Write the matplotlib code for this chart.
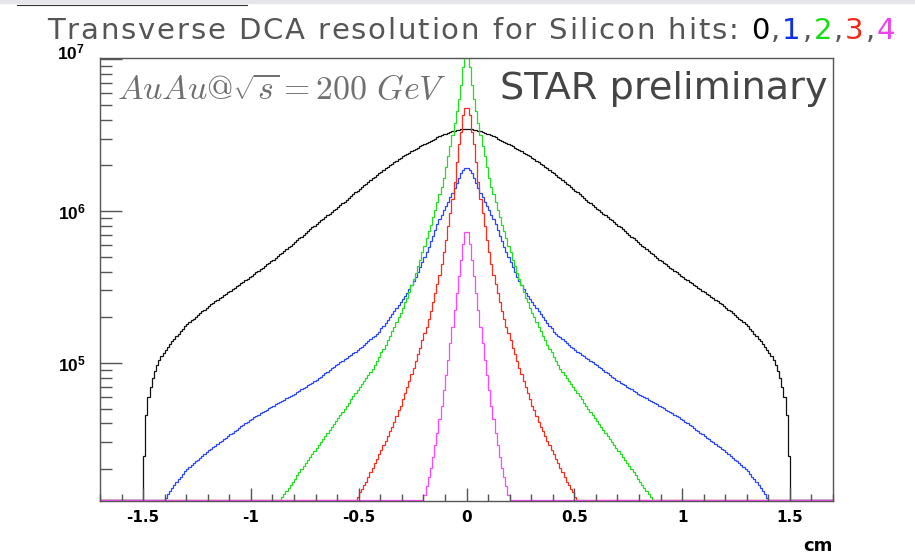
import numpy as np
import matplotlib
matplotlib.use('Agg')
import matplotlib.pyplot as plt
from matplotlib.ticker import FixedLocator, NullFormatter, MultipleLocator

plt.rcParams['axes.unicode_minus'] = False
plt.rcParams['mathtext.fontset'] = 'custom'
plt.rcParams['mathtext.bf'] = 'Liberation Sans:bold'
plt.rcParams['mathtext.rm'] = 'Liberation Sans'

W, H = 915, 555

# histogram window
x_min, x_max = -1.7, 1.7
y_min, y_max = 1.236e4, 1.016e7

# log10(bin content), left to right from the first filled bin, 0.01 cm bins
black_start = -1.50
black_log10 = [
    4.390, 4.655, 4.775, 4.845, 4.900, 4.950, 4.988, 5.020, 5.046, 5.068,
    5.088, 5.106, 5.124, 5.142, 5.160, 5.178, 5.194, 5.210, 5.226, 5.242,
    5.256, 5.268, 5.280, 5.292, 5.304, 5.316, 5.328, 5.340, 5.352, 5.364,
    5.375, 5.385, 5.395, 5.405, 5.415, 5.425, 5.435, 5.445, 5.455, 5.465,
    5.475, 5.485, 5.495, 5.505, 5.515, 5.525, 5.535, 5.545, 5.555, 5.565,
    5.575, 5.586, 5.596, 5.607, 5.617, 5.628, 5.638, 5.649, 5.659, 5.670,
    5.681, 5.692, 5.704, 5.715, 5.727, 5.738, 5.750, 5.761, 5.773, 5.784,
    5.796, 5.808, 5.820, 5.832, 5.844, 5.856, 5.868, 5.880, 5.892, 5.904,
    5.916, 5.927, 5.938, 5.949, 5.960, 5.971, 5.982, 5.993, 6.004, 6.015,
    6.026, 6.038, 6.050, 6.062, 6.074, 6.086, 6.098, 6.110, 6.122, 6.134,
    6.146, 6.157, 6.169, 6.180, 6.192, 6.203, 6.215, 6.226, 6.238, 6.249,
    6.260, 6.270, 6.280, 6.290, 6.300, 6.310, 6.320, 6.330, 6.340, 6.350,
    6.359, 6.368, 6.376, 6.384, 6.392, 6.401, 6.409, 6.417, 6.426, 6.434,
    6.442, 6.449, 6.456, 6.463, 6.470, 6.477, 6.484, 6.491, 6.498, 6.504,
    6.509, 6.514, 6.519, 6.524, 6.529, 6.533, 6.536, 6.538, 6.540, 6.540,
    6.540, 6.540, 6.538, 6.536, 6.533, 6.529, 6.524, 6.519, 6.514, 6.509,
    6.504, 6.498, 6.491, 6.484, 6.477, 6.470, 6.463, 6.456, 6.449, 6.442,
    6.434, 6.426, 6.417, 6.409, 6.401, 6.392, 6.384, 6.376, 6.368, 6.359,
    6.350, 6.340, 6.330, 6.320, 6.310, 6.300, 6.290, 6.280, 6.270, 6.260,
    6.249, 6.238, 6.226, 6.215, 6.203, 6.192, 6.180, 6.169, 6.157, 6.146,
    6.134, 6.122, 6.110, 6.098, 6.086, 6.074, 6.062, 6.050, 6.038, 6.026,
    6.015, 6.004, 5.993, 5.982, 5.971, 5.960, 5.949, 5.938, 5.927, 5.916,
    5.904, 5.892, 5.880, 5.868, 5.856, 5.844, 5.832, 5.820, 5.808, 5.796,
    5.784, 5.773, 5.761, 5.750, 5.738, 5.727, 5.715, 5.704, 5.692, 5.681,
    5.670, 5.659, 5.649, 5.638, 5.628, 5.617, 5.607, 5.596, 5.586, 5.575,
    5.565, 5.555, 5.545, 5.535, 5.525, 5.515, 5.505, 5.495, 5.485, 5.475,
    5.465, 5.455, 5.445, 5.435, 5.425, 5.415, 5.405, 5.395, 5.385, 5.375,
    5.364, 5.352, 5.340, 5.328, 5.316, 5.304, 5.292, 5.280, 5.268, 5.256,
    5.242, 5.226, 5.210, 5.194, 5.178, 5.160, 5.142, 5.124, 5.106, 5.088,
    5.068, 5.046, 5.020, 4.988, 4.950, 4.900, 4.845, 4.775, 4.655, 4.390,
]

blue_start = -1.40
blue_log10 = [
    4.115, 4.138, 4.160, 4.180, 4.200, 4.219, 4.236, 4.253, 4.270, 4.287,
    4.302, 4.314, 4.327, 4.339, 4.352, 4.364, 4.377, 4.389, 4.402, 4.414,
    4.425, 4.436, 4.446, 4.457, 4.467, 4.478, 4.488, 4.499, 4.509, 4.520,
    4.530, 4.541, 4.551, 4.562, 4.572, 4.583, 4.593, 4.604, 4.614, 4.625,
    4.634, 4.643, 4.651, 4.660, 4.668, 4.677, 4.685, 4.694, 4.702, 4.711,
    4.719, 4.727, 4.735, 4.743, 4.751, 4.759, 4.767, 4.775, 4.783, 4.791,
    4.799, 4.808, 4.817, 4.826, 4.835, 4.844, 4.853, 4.862, 4.871, 4.880,
    4.890, 4.901, 4.911, 4.922, 4.932, 4.943, 4.953, 4.964, 4.974, 4.985,
    4.995, 5.005, 5.015, 5.025, 5.035, 5.045, 5.055, 5.065, 5.075, 5.085,
    5.096, 5.108, 5.120, 5.132, 5.144, 5.156, 5.168, 5.180, 5.192, 5.205,
    5.228, 5.246, 5.264, 5.282, 5.300, 5.320, 5.340, 5.360, 5.380, 5.400,
    5.420, 5.440, 5.462, 5.486, 5.512, 5.538, 5.568, 5.600, 5.632, 5.663,
    5.695, 5.730, 5.765, 5.800, 5.838, 5.875, 5.912, 5.945, 5.975, 6.008,
    6.035, 6.062, 6.090, 6.120, 6.150, 6.185, 6.220, 6.250, 6.270, 6.280,
    6.280, 6.270, 6.250, 6.220, 6.185, 6.150, 6.120, 6.090, 6.062, 6.035,
    6.008, 5.975, 5.945, 5.912, 5.875, 5.838, 5.800, 5.765, 5.730, 5.695,
    5.663, 5.632, 5.600, 5.568, 5.538, 5.512, 5.486, 5.462, 5.440, 5.420,
    5.400, 5.380, 5.360, 5.340, 5.320, 5.300, 5.282, 5.264, 5.246, 5.228,
    5.205, 5.192, 5.180, 5.168, 5.156, 5.144, 5.132, 5.120, 5.108, 5.096,
    5.085, 5.075, 5.065, 5.055, 5.045, 5.035, 5.025, 5.015, 5.005, 4.995,
    4.985, 4.974, 4.964, 4.953, 4.943, 4.932, 4.922, 4.911, 4.901, 4.890,
    4.880, 4.871, 4.862, 4.853, 4.844, 4.835, 4.826, 4.817, 4.808, 4.799,
    4.791, 4.783, 4.775, 4.767, 4.759, 4.751, 4.743, 4.735, 4.727, 4.719,
    4.711, 4.702, 4.694, 4.685, 4.677, 4.668, 4.660, 4.651, 4.643, 4.634,
    4.625, 4.614, 4.604, 4.593, 4.583, 4.572, 4.562, 4.551, 4.541, 4.530,
    4.520, 4.509, 4.499, 4.488, 4.478, 4.467, 4.457, 4.446, 4.436, 4.425,
    4.414, 4.402, 4.389, 4.377, 4.364, 4.352, 4.339, 4.327, 4.314, 4.302,
    4.287, 4.270, 4.253, 4.236, 4.219, 4.200, 4.180, 4.160, 4.138, 4.115,
]

green_start = -0.88
green_log10 = [
    4.10, 4.10, 4.12, 4.14, 4.16, 4.18, 4.20, 4.22,
    4.24, 4.26, 4.28, 4.30, 4.32, 4.34, 4.36, 4.38, 4.40, 4.42,
    4.44, 4.46, 4.48, 4.50, 4.52, 4.54, 4.56, 4.58, 4.60, 4.62,
    4.64, 4.66, 4.68, 4.70, 4.72, 4.74, 4.76, 4.78, 4.80, 4.82,
    4.84, 4.86, 4.88, 4.90, 4.92, 4.94, 4.96, 4.99, 5.01, 5.04,
    5.07, 5.09, 5.12, 5.15, 5.18, 5.21, 5.24, 5.27, 5.30, 5.33,
    5.36, 5.40, 5.43, 5.47, 5.51, 5.55, 5.59, 5.64, 5.68, 5.73,
    5.77, 5.82, 5.87, 5.91, 5.96, 6.01, 6.06, 6.11, 6.16, 6.22,
    6.29, 6.36, 6.43, 6.50, 6.58, 6.66, 6.74, 6.83, 6.95, 7.05,
    7.05, 6.95, 6.83, 6.74, 6.66, 6.58, 6.50, 6.43, 6.36, 6.29,
    6.22, 6.16, 6.11, 6.06, 6.01, 5.96, 5.91, 5.87, 5.82, 5.77,
    5.73, 5.68, 5.64, 5.59, 5.55, 5.51, 5.47, 5.43, 5.40, 5.36,
    5.33, 5.30, 5.27, 5.24, 5.21, 5.18, 5.15, 5.12, 5.09, 5.07,
    5.04, 5.01, 4.99, 4.96, 4.94, 4.92, 4.90, 4.88, 4.86, 4.84,
    4.82, 4.80, 4.78, 4.76, 4.74, 4.72, 4.70, 4.68, 4.66, 4.64,
    4.62, 4.60, 4.58, 4.56, 4.54, 4.52, 4.50, 4.48, 4.46, 4.44,
    4.42, 4.40, 4.38, 4.36, 4.34, 4.32, 4.30, 4.28, 4.26, 4.24,
    4.22, 4.20, 4.18, 4.16, 4.14, 4.12, 4.10, 4.10,
]

red_start = -0.52
red_log10 = [
    4.10, 4.12,
    4.15, 4.17, 4.20, 4.22, 4.25, 4.28, 4.31, 4.34, 4.37, 4.40,
    4.43, 4.46, 4.49, 4.52, 4.55, 4.58, 4.61, 4.65, 4.69, 4.72,
    4.76, 4.80, 4.84, 4.88, 4.93, 4.97, 5.01, 5.06, 5.10, 5.15,
    5.20, 5.24, 5.29, 5.34, 5.40, 5.46, 5.52, 5.58, 5.65, 5.73,
    5.81, 5.90, 5.99, 6.08, 6.19, 6.32, 6.44, 6.52, 6.63, 6.68,
    6.68, 6.63, 6.52, 6.44, 6.32, 6.19, 6.08, 5.99, 5.90, 5.81,
    5.73, 5.65, 5.58, 5.52, 5.46, 5.40, 5.34, 5.29, 5.24, 5.20,
    5.15, 5.10, 5.06, 5.01, 4.97, 4.93, 4.88, 4.84, 4.80, 4.76,
    4.72, 4.69, 4.65, 4.61, 4.58, 4.55, 4.52, 4.49, 4.46, 4.43,
    4.40, 4.37, 4.34, 4.31, 4.28, 4.25, 4.22, 4.20, 4.17, 4.15,
    4.12, 4.10,
]

magenta_start = -0.20
magenta_log10 = [
    4.13, 4.19, 4.25, 4.31, 4.38, 4.46, 4.54, 4.63, 4.72, 4.82,
    4.92, 5.02, 5.13, 5.24, 5.35, 5.46, 5.57, 5.68, 5.78, 5.86,
    5.86, 5.78, 5.68, 5.57, 5.46, 5.35, 5.24, 5.13, 5.02, 4.92,
    4.82, 4.72, 4.63, 4.54, 4.46, 4.38, 4.31, 4.25, 4.19, 4.13,
]

bin_width = 0.01
hist_colors = ['#111111', '#2a45ff', '#1ee01e', '#ff2a1a', '#ff45ff']
x_ticks = [-1.5, -1.0, -0.5, 0.0, 0.5, 1.0, 1.5]
x_ticklabels = ['-1.5', '-1', '-0.5', '0', '0.5', '1', '1.5']
title_pieces = [
    ('Transverse DCA resolution for Silicon hits: ', '#555555'),
    ('0', '#000000'), (',', '#555555'),
    ('1', '#1030e8'), (',', '#555555'),
    ('2', '#18dc18'), (',', '#555555'),
    ('3', '#f0281a'), (',', '#555555'),
    ('4', '#f040f0'),
]

series = [
    (black_start, black_log10, hist_colors[0]),
    (blue_start, blue_log10, hist_colors[1]),
    (green_start, green_log10, hist_colors[2]),
    (red_start, red_log10, hist_colors[3]),
    (magenta_start, magenta_log10, hist_colors[4]),
]

fig = plt.figure(figsize=(W / 100, H / 100), dpi=100)
fig.patch.set_facecolor('white')
ax = fig.add_axes([100 / W, 54 / H, 733 / W, 443 / H])
ax.set_yscale('log')
ax.set_xlim(x_min, x_max)
ax.set_ylim(y_min, y_max)

# empty bins sit on the lower edge of the frame
floor = y_min * 1.012
for start, logs, color in series:
    vals = 10.0 ** np.asarray(logs)
    edges = start + bin_width * np.arange(len(vals) + 1)
    full_edges = np.concatenate([[x_min], edges, [x_max]])
    full_vals = np.concatenate([[floor], vals, [floor]])
    ax.stairs(full_vals, full_edges, color=color, lw=0.9, baseline=None)

for sp in ax.spines.values():
    sp.set_color('#555555')
    sp.set_linewidth(1.0)

ax.xaxis.set_major_locator(FixedLocator(x_ticks))
ax.set_xticklabels(x_ticklabels)
ax.xaxis.set_minor_locator(MultipleLocator(0.1))
ax.yaxis.set_major_locator(FixedLocator([1e5, 1e6, 1e7]))
ax.set_yticklabels([r'$\mathbf{10^{5}}$', r'$\mathbf{10^{6}}$', ''])
ax.yaxis.set_minor_locator(FixedLocator(
    [m * 10.0 ** e for e in (4, 5, 6) for m in range(2, 10)]))
ax.yaxis.set_minor_formatter(NullFormatter())

ax.tick_params(which='both', direction='in', top=False, right=False,
               color='#555555', width=1.0)
ax.tick_params(axis='x', which='major', length=9.4, pad=6.5, labelsize=11)
ax.tick_params(axis='x', which='minor', length=5)
ax.tick_params(axis='y', which='major', length=15.8, pad=10.5, labelsize=12.5)
ax.tick_params(axis='y', which='minor', length=8.3)
for lab in ax.get_xticklabels():
    lab.set_fontweight('bold')
    lab.set_family('DejaVu Sans')

ax.annotate(r'$\mathbf{10^{7}}$', xy=(0, 1e7), xycoords=('axes fraction', 'data'),
            xytext=(-15, 6), textcoords='offset pixels', ha='right', va='center',
            fontsize=12.5)

fig.text(833 / W, 1 - 546 / H, 'cm', ha='right', va='center', fontsize=13,
         fontweight='bold', family='DejaVu Sans')

# strip along the top edge
fig.patches.append(plt.Rectangle((0, 1 - 3 / H), 1, 3 / H, transform=fig.transFigure,
                                 color='#e6e6ea', zorder=0))
fig.lines.append(plt.Line2D([17 / W, 247 / W], [1 - 5 / H, 1 - 5 / H],
                            transform=fig.transFigure, color='#333333', lw=0.8))

fig.canvas.draw()
renderer = fig.canvas.get_renderer()


def spaced_text(pieces, x0, base, size, family, target):
    # one Text per character, tracked out so the line spans target px
    chars = [(ch, c) for s, c in pieces for ch in s]
    probe = fig.text(0, 0, '', fontsize=size, family=family)

    def width(s):
        probe.set_text(s)
        return probe.get_window_extent(renderer).width

    space = width('x x') - width('xx')
    widths = [space if ch == ' ' else width(ch) for ch, _ in chars]
    probe.remove()
    track = max(0.0, (target - sum(widths)) / (len(chars) - 1))
    x = x0
    for (ch, c), w in zip(chars, widths):
        if ch != ' ':
            fig.text(x / W, 1 - base / H, ch, color=c, fontsize=size,
                     family=family, ha='left', va='baseline')
        x += w + track


spaced_text(title_pieces, 47, 39, 21, 'DejaVu Sans', 848)

star = fig.text(500 / W, 1 - 99 / H, 'STAR preliminary', color='#454545',
                fontsize=26, family='DejaVu Sans', ha='left', va='baseline')
star.set_fontsize(26 * 327 / star.get_window_extent(renderer).width)

t = fig.text(117 / W, 1 - 100 / H, r'$AuAu@\sqrt{s} = 200\ GeV$', color='#707070',
             fontsize=20, math_fontfamily='cm', ha='left', va='baseline')
t.set_fontsize(20 * 331 / t.get_window_extent(renderer).width)

fig.savefig('out.png', dpi=100)
